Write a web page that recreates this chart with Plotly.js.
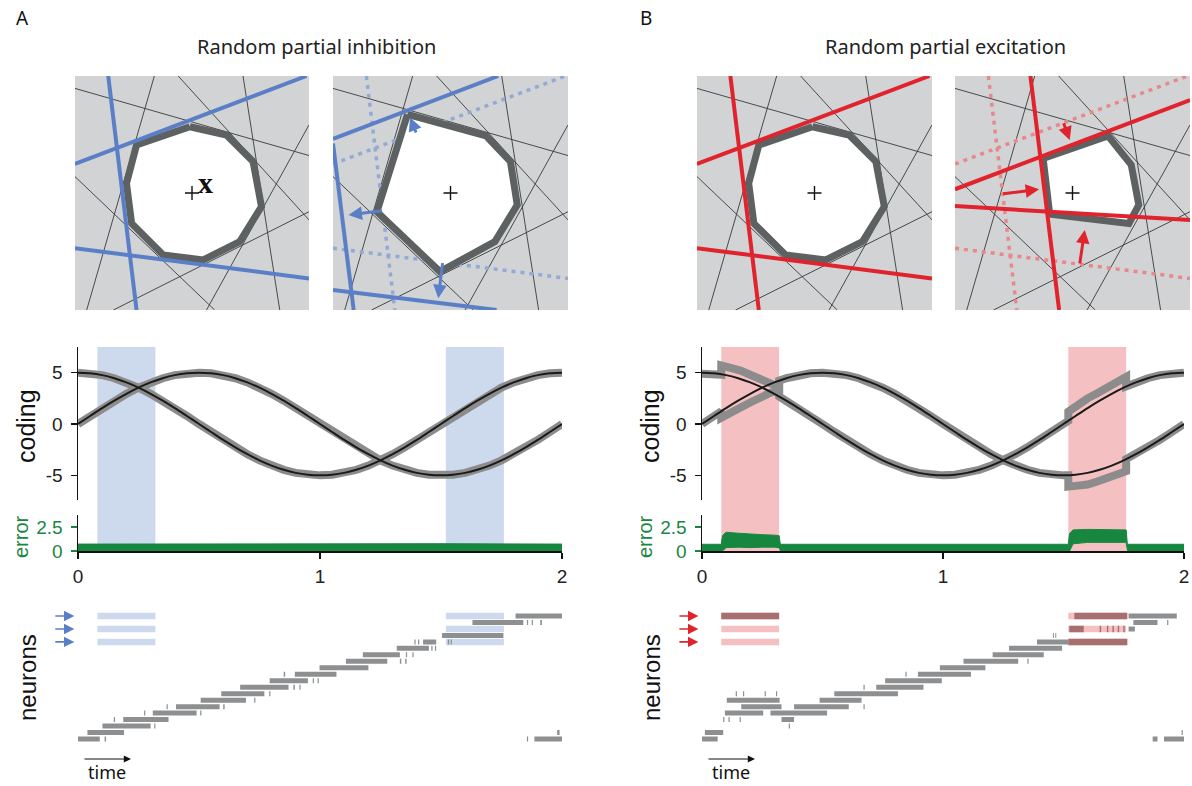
<!DOCTYPE html>
<html><head><meta charset="utf-8">
<script src="https://cdn.plot.ly/plotly-3.0.1.min.js"></script>
<style>html,body{margin:0;padding:0;background:#fff}#chart{width:1192px;height:786px}</style>
</head><body><div id="chart"></div>
<script>
// ---------------- data ----------------
const panelLabels = ['A', 'B'];
const panelTitles = ['Random partial inhibition', 'Random partial excitation'];
const timeTicks = [0, 1, 2];
const timeTickText = ['0', '1', '2'];
const codingTicks = [-5, 0, 5];
const codingTickText = ['-5', '0', '5'];
const errorTicks = [0, 2.5];
const errorTickText = ['0', '2.5'];
const stimPeriods = [[0.08, 0.32], [1.52, 1.76]];
const stimRows = [0, 2, 4];

// polytope diagrams (unit square coordinates)
const thinLines = [[0,0.947,1,0.660],[0.339,1,0.050,0],[0.441,1,1,0.385],[0.718,1,0.875,0],[0,0.570,0.597,0],[0.164,0,1,0.420],[0.562,0,1,0.791]];
const origBounds = [[0,0.624,0.989,1],[0.142,1,0.263,0],[0,0.264,1,0.135]];
const inhibBounds = [[0,0.731,0.703,1],[0,0.712,0.088,0],[0,0.085,0.696,0]];
const excitBounds = [[0,0.516,1,0.897],[0.321,1,0.443,0],[0,0.444,1,0.385]];
const polyOrigX = [0.491,0.647,0.761,0.797,0.704,0.548,0.377,0.242,0.220,0.263];
const polyOrigY = [0.783,0.748,0.634,0.442,0.292,0.214,0.235,0.370,0.541,0.705];
const polyInhX = [0.317,0.651,0.755,0.784,0.689,0.455,0.187];
const polyInhY = [0.836,0.744,0.634,0.449,0.292,0.164,0.420];
const polyExcX = [0.375,0.651,0.750,0.782,0.740,0.403];
const polyExcY = [0.648,0.744,0.620,0.449,0.370,0.410];
const inhibArrows = [[0.356,0.752,0.328,0.823],[0.215,0.425,0.066,0.406],[0.467,0.207,0.448,0.050]];
const excitArrows = [[0.460,0.805,0.488,0.726],[0.198,0.496,0.358,0.516],[0.530,0.192,0.552,0.342]];

// target signals
const tSig = [0,0.05,0.1,0.15,0.2,0.25,0.3,0.35,0.4,0.45,0.5,0.55,0.6,0.65,0.7,0.75,0.8,0.85,0.9,0.95,1.0,1.05,1.1,1.15,1.2,1.25,1.3,1.35,1.4,1.45,1.5,1.55,1.6,1.65,1.7,1.75,1.8,1.85,1.9,1.95,2.0];
const sigCos = [5,4.94,4.76,4.46,4.05,3.54,2.94,2.27,1.55,0.78,0,-0.78,-1.55,-2.27,-2.94,-3.54,-4.05,-4.46,-4.76,-4.94,-5,-4.94,-4.76,-4.46,-4.05,-3.54,-2.94,-2.27,-1.55,-0.78,0,0.78,1.55,2.27,2.94,3.54,4.05,4.46,4.76,4.94,5];
const sigSin = [0,0.78,1.55,2.27,2.94,3.54,4.05,4.46,4.76,4.94,5,4.94,4.76,4.46,4.05,3.54,2.94,2.27,1.55,0.78,0,-0.78,-1.55,-2.27,-2.94,-3.54,-4.05,-4.46,-4.76,-4.94,-5,-4.94,-4.76,-4.46,-4.05,-3.54,-2.94,-2.27,-1.55,-0.78,0];

// network readouts in panel B (panel A readouts follow the targets)
const readBT = [0,0.05,0.08,0.08,0.12,0.16,0.2,0.24,0.28,0.32,0.32,0.35,0.4,0.45,0.5,0.55,0.6,0.65,0.7,0.75,0.8,0.85,0.9,0.95,1.0,1.05,1.1,1.15,1.2,1.25,1.3,1.35,1.4,1.45,1.5,1.52,1.52,1.56,1.6,1.64,1.68,1.72,1.76,1.76,1.8,1.85,1.9,1.95,2.0];
const readBCos = [4.9,4.85,4.8,5.7,5.5,5.2,4.8,4.4,4.0,3.6,2.68,2.27,1.55,0.78,0,-0.78,-1.55,-2.27,-2.94,-3.54,-4.05,-4.46,-4.76,-4.94,-5,-4.94,-4.76,-4.46,-4.05,-3.54,-2.94,-2.27,-1.55,-0.78,0,0.31,1.2,1.9,2.5,3.0,3.6,4.1,4.6,3.65,4.05,4.46,4.76,4.94,5];
const readBSin = [0,0.78,1.24,0.6,1.0,1.6,2.1,2.6,3.0,3.3,4.22,4.46,4.76,4.94,5,4.94,4.76,4.46,4.05,3.54,2.94,2.27,1.55,0.78,0,-0.78,-1.55,-2.27,-2.94,-3.54,-4.05,-4.46,-4.76,-4.94,-5,-4.99,-6.1,-6.0,-5.9,-5.6,-5.3,-5.0,-4.6,-3.42,-2.94,-2.27,-1.55,-0.78,0];

// coding error bands
const errAT = [0,0.5,1.0,1.5,2.0];
const errAHi = [0.72,0.75,0.72,0.76,0.72];
const errALo = [0,0,0,0,0];
const errBT = [0,0.08,0.085,0.1,0.15,0.2,0.25,0.3,0.32,0.325,1.52,1.525,1.54,1.6,1.7,1.76,1.765,2.0];
const errBHi = [0.7,0.7,1.6,1.95,1.85,1.75,1.7,1.65,1.6,0.7,0.7,1.8,2.2,2.25,2.25,2.2,0.7,0.7];
const errBLo = [0,0,0,0.35,0.4,0.35,0.4,0.4,0.35,0,0,0,0.75,0.9,0.9,0.9,0,0];

// spike rasters: [neuron row, start, end]
const rasterA = [[0,1.808,2.0],[1,1.63,1.84],[1,1.855,1.86],[1,1.875,1.88],[1,1.91,1.917],[3,1.504,1.758],
 [4,1.39,1.395],[4,1.405,1.41],[4,1.426,1.48],[4,1.528,1.534],[4,1.54,1.545],[5,1.317,1.45],[5,1.46,1.465],[5,1.475,1.48],
 [6,1.177,1.33],[6,1.355,1.36],[6,1.382,1.387],[7,1.107,1.278],[7,1.33,1.336],[7,1.352,1.358],[8,0.998,1.2],
 [9,0.85,0.856],[9,0.896,1.068],[10,0.792,0.95],[10,0.97,0.975],[10,0.99,0.995],[11,0.67,0.87],[11,0.89,0.896],[11,0.915,0.92],
 [12,0.592,0.77],[12,0.79,0.795],[13,0.507,0.694],[13,0.728,0.733],[14,0.366,0.371],[14,0.405,0.585],[14,0.6,0.606],
 [15,0.273,0.278],[15,0.309,0.49],[15,0.505,0.51],[16,0.148,0.153],[16,0.187,0.374],[17,0.101,0.3],[17,0.315,0.32],
 [18,0.039,0.19],[18,1.98,1.99],[19,0,0.09],[19,0.11,0.116],[19,1.855,1.86],[19,1.886,2.0]];
const rasterB = [[0,1.77,1.97],[1,1.79,1.89],[1,1.93,1.935],[2,1.77,1.796],[3,1.456,1.46],[3,1.466,1.47],[4,1.39,1.52],
 [5,1.274,1.494],[6,1.206,1.418],[7,1.085,1.312],[7,1.35,1.355],[8,0.987,1.176],[9,0.844,0.849],[9,0.896,1.116],
 [10,0.76,0.995],[11,0.67,0.675],[11,0.723,0.919],[12,0.14,0.145],[12,0.17,0.175],[12,0.26,0.265],[12,0.307,0.312],[12,0.549,0.813],
 [13,0.103,0.322],[13,0.488,0.662],[14,0.163,0.33],[14,0.382,0.609],[14,0.67,0.675],[15,0.095,0.254],[15,0.284,0.519],
 [16,0.088,0.093],[16,0.11,0.115],[16,0.156,0.161],[16,0.33,0.382],[17,0.36,0.365],[18,0.012,0.088],[18,1.99,1.995],
 [19,0,0.065],[19,1.87,1.89],[19,1.917,2.0]];
const rasterBExcited = [[0,0.08,0.32],[0,1.545,1.765],[2,1.524,1.584],[2,1.65,1.656],[2,1.68,1.686],[2,1.703,1.709],[2,1.725,1.731],[2,1.748,1.754],[4,1.52,1.765]];
const stimArrowT = [-0.1, -0.015];

// ---------------- styles ----------------
const C = {
  blue:'#5a7fc6', blueDot:'#93aad8', blueShade:'#cdd9ec',
  red:'#e0232c', redDot:'#e8888c', pink:'#f5c0c2', darkRed:'#a86f71',
  sqBg:'#d1d3d4', poly:'#5e6162', thin:'#3a3a3a', gray:'#8c8c8c', raster:'#8e8f91', green:'#17873f'
};
const W = 1192, H = 786;
const px = v => v / W, py = v => 1 - v / H;
const FONT = 'Liberation Sans, Arial, sans-serif';
const FONT2 = 'Noto Sans, Open Sans, sans-serif';

function segs(list) {
  const x = [], y = [];
  list.forEach(s => { x.push(s[0], s[2], null); y.push(s[1], s[3], null); });
  return {x, y};
}
function rows(list) {
  const x = [], y = [];
  list.forEach(r => { x.push(r[1], r[2], null); y.push(r[0], r[0], null); });
  return {x, y};
}
function closed(a) { return a.concat([a[0]]); }
function label(x, y, text, font, extra) {
  return Object.assign({xref: 'paper', yref: 'paper', x: px(x), y: py(y), text: text, showarrow: false,
    xanchor: 'center', yanchor: 'middle', font: font}, extra || {});
}

const traces = [];
const shapes = [];
const annotations = [];
const layout = {
  width: W, height: H, margin: {l:0, r:0, t:0, b:0},
  paper_bgcolor: '#ffffff', plot_bgcolor: 'rgba(0,0,0,0)', showlegend: false,
  font: {family: FONT, color: '#222'}
};

// square subplots
const sqX = [[75,309],[333,568],[697,932],[955,1190]];
const sqY = [76,310];
const sqSpecs = [
  {solid: origBounds, dotted: null, poly: [polyOrigX, polyOrigY], col: C.blue, dcol: C.blueDot, arrows: null},
  {solid: inhibBounds, dotted: origBounds, poly: [polyInhX, polyInhY], col: C.blue, dcol: C.blueDot, arrows: inhibArrows},
  {solid: origBounds, dotted: null, poly: [polyOrigX, polyOrigY], col: C.red, dcol: C.redDot, arrows: null},
  {solid: excitBounds, dotted: origBounds, poly: [polyExcX, polyExcY], col: C.red, dcol: C.redDot, arrows: excitArrows}
];
sqSpecs.forEach((sp, i) => {
  const n = i + 1, xa = 'x' + n, ya = 'y' + n;
  layout['xaxis' + n] = {domain: [px(sqX[i][0]), px(sqX[i][1])], range: [0, 1], visible: false, fixedrange: true, anchor: ya};
  layout['yaxis' + n] = {domain: [py(sqY[1]), py(sqY[0])], range: [0, 1], visible: false, fixedrange: true, anchor: xa};
  shapes.push({type: 'rect', xref: xa, yref: ya, x0: 0, x1: 1, y0: 0, y1: 1, fillcolor: C.sqBg, line: {width: 0}, layer: 'below'});
  const tl = segs(thinLines);
  traces.push({type: 'scatter', mode: 'lines', x: tl.x, y: tl.y, xaxis: xa, yaxis: ya, line: {color: C.thin, width: 0.9}, hoverinfo: 'skip'});
  if (sp.dotted) {
    const d = segs(sp.dotted);
    traces.push({type: 'scatter', mode: 'lines', x: d.x, y: d.y, xaxis: xa, yaxis: ya, line: {color: sp.dcol, width: 3.5, dash: '4px,5px'}, hoverinfo: 'skip'});
  }
  traces.push({type: 'scatter', mode: 'lines', x: closed(sp.poly[0]), y: closed(sp.poly[1]), xaxis: xa, yaxis: ya,
    fill: 'toself', fillcolor: '#ffffff', line: {color: C.poly, width: 7}, hoverinfo: 'skip'});
  const s = segs(sp.solid);
  traces.push({type: 'scatter', mode: 'lines', x: s.x, y: s.y, xaxis: xa, yaxis: ya, line: {color: sp.col, width: 4}, hoverinfo: 'skip'});
  traces.push({type: 'scatter', mode: 'markers', x: [0.5], y: [0.5], xaxis: xa, yaxis: ya,
    marker: {symbol: 'cross-thin', size: 10, line: {color: '#111', width: 1.4}}, hoverinfo: 'skip'});
  if (sp.arrows) sp.arrows.forEach(a => annotations.push({xref: xa, yref: ya, axref: xa, ayref: ya, x: a[2], y: a[3], ax: a[0], ay: a[1],
    text: '', showarrow: true, arrowhead: 2, arrowsize: 0.9, arrowwidth: 3, arrowcolor: sp.col}));
});
annotations.push({xref: 'x1', yref: 'y1', x: 0.558, y: 0.543, text: '<b>x</b>', showarrow: false, xanchor: 'center', yanchor: 'middle',
  font: {family: 'Liberation Serif, DejaVu Serif, serif', size: 30, color: '#111'}});

// time-series panels
const panels = [
  {x0: 78, x1: 562, shade: C.blueShade, read: null, err: [errAT, errAHi, errALo], raster: rasterA, excited: null, arrowCol: C.blue, labX: 0},
  {x0: 702, x1: 1184, shade: C.pink, read: [readBT, readBCos, readBSin], err: [errBT, errBHi, errBLo], raster: rasterB, excited: rasterBExcited, arrowCol: C.red, labX: 624}
];
panels.forEach((p, k) => {
  const nc = 5 + k * 3, ne = nc + 1, nn = nc + 2;
  const dom = [px(p.x0), px(p.x1)];
  const unit = (p.x1 - p.x0) / 2;
  const nLeft = -0.12;
  // coding
  layout['xaxis' + nc] = {domain: dom, range: [0, 2], visible: false, fixedrange: true, anchor: 'y' + nc};
  layout['yaxis' + nc] = {domain: [py(500), py(347)], range: [-7.4, 7.5], anchor: 'x' + nc, fixedrange: true,
    tickvals: codingTicks, ticktext: codingTickText, ticks: 'outside', ticklen: 6, tickwidth: 1.5, tickcolor: '#111',
    showline: true, linecolor: '#111', linewidth: 1.5, showgrid: false, zeroline: false,
    tickfont: {size: 19, color: '#222'}, ticklabelstandoff: 4};
  // error
  layout['xaxis' + ne] = {domain: dom, range: [0, 2], anchor: 'y' + ne, fixedrange: true,
    tickvals: timeTicks, ticktext: timeTickText, ticks: 'outside', ticklen: 6, tickwidth: 1.5, tickcolor: '#111',
    showline: true, linecolor: '#111', linewidth: 1.5, showgrid: false, zeroline: false,
    tickfont: {size: 19, color: '#222'}, ticklabelstandoff: 2};
  layout['yaxis' + ne] = {domain: [py(551), py(515)], range: [0, 3.75], anchor: 'x' + ne, fixedrange: true,
    tickvals: errorTicks, ticktext: errorTickText, ticks: 'outside', ticklen: 6, tickwidth: 1.5, tickcolor: C.green,
    showline: true, linecolor: '#111', linewidth: 1.5, showgrid: false, zeroline: false,
    tickfont: {size: 19, color: C.green}, ticklabelstandoff: 4};
  // neurons (axis extended a little to the left to hold the stimulation arrows)
  layout['xaxis' + nn] = {domain: [px(p.x0 + nLeft * unit), px(p.x1)], range: [nLeft, 2], visible: false, fixedrange: true, anchor: 'y' + nn};
  layout['yaxis' + nn] = {domain: [py(745.5), py(609.5)], range: [20, -1], visible: false, fixedrange: true, anchor: 'x' + nn};

  stimPeriods.forEach(sp => shapes.push({type: 'rect', xref: 'x' + nc, yref: 'paper', x0: sp[0], x1: sp[1],
    y0: py(551), y1: py(347), fillcolor: p.shade, line: {width: 0}, layer: 'below'}));

  const xc = 'x' + nc, yc = 'y' + nc;
  const rt = p.read ? p.read[0] : tSig, rc = p.read ? p.read[1] : sigCos, rs = p.read ? p.read[2] : sigSin;
  traces.push({type: 'scatter', mode: 'lines', x: rt, y: rc, xaxis: xc, yaxis: yc, line: {color: C.gray, width: 8}, hoverinfo: 'skip'});
  traces.push({type: 'scatter', mode: 'lines', x: rt, y: rs, xaxis: xc, yaxis: yc, line: {color: C.gray, width: 8}, hoverinfo: 'skip'});
  traces.push({type: 'scatter', mode: 'lines', x: tSig, y: sigCos, xaxis: xc, yaxis: yc, line: {color: '#1a1a1a', width: 2, shape: 'spline'}, hoverinfo: 'skip'});
  traces.push({type: 'scatter', mode: 'lines', x: tSig, y: sigSin, xaxis: xc, yaxis: yc, line: {color: '#1a1a1a', width: 2, shape: 'spline'}, hoverinfo: 'skip'});

  const eT = p.err[0];
  traces.push({type: 'scatter', mode: 'lines', x: eT.concat(eT.slice().reverse()), y: p.err[1].concat(p.err[2].slice().reverse()),
    xaxis: 'x' + ne, yaxis: 'y' + ne, fill: 'toself', fillcolor: C.green, line: {color: C.green, width: 1}, hoverinfo: 'skip'});

  // stimulation bars
  const bars = [];
  stimPeriods.forEach(sp => stimRows.forEach(r => bars.push([r, sp[0], sp[1]])));
  const b = rows(bars);
  traces.push({type: 'scatter', mode: 'lines', x: b.x, y: b.y, xaxis: 'x' + nn, yaxis: 'y' + nn, line: {color: p.shade, width: 6.5}, hoverinfo: 'skip'});
  const r = rows(p.raster);
  traces.push({type: 'scatter', mode: 'lines', x: r.x, y: r.y, xaxis: 'x' + nn, yaxis: 'y' + nn, line: {color: C.raster, width: 5}, hoverinfo: 'skip'});
  if (p.excited) {
    const e = rows(p.excited);
    traces.push({type: 'scatter', mode: 'lines', x: e.x, y: e.y, xaxis: 'x' + nn, yaxis: 'y' + nn, line: {color: C.darkRed, width: 6.5}, hoverinfo: 'skip'});
  }
  stimRows.forEach(rw => annotations.push({xref: 'x' + nn, yref: 'y' + nn, axref: 'x' + nn, ayref: 'y' + nn,
    x: stimArrowT[1], y: rw, ax: stimArrowT[0], ay: rw, text: '', showarrow: true, arrowhead: 2, arrowsize: 1.3, arrowwidth: 1.6, arrowcolor: p.arrowCol}));

  // labels
  const off = p.labX;
  annotations.push(label(off + 22, 18, panelLabels[k], {family: FONT2, size: 19, color: '#111'}));
  annotations.push(label((p.x0 + p.x1) / 2 + (k ? 2 : -4), 46, panelTitles[k], {family: FONT2, size: 20, color: '#222'}));
  annotations.push(label(off + 26, 426, 'coding', {family: FONT, size: 25, color: '#111'}, {textangle: -90}));
  annotations.push(label(off + 21, 537, 'error', {family: FONT, size: 20, color: C.green}, {textangle: -90}));
  annotations.push(label(off + 27, 678, 'neurons', {family: FONT, size: 24, color: '#111'}, {textangle: -90}));
  annotations.push(label(p.x0 + 29, 772, 'time', {family: FONT2, size: 18, color: '#111'}));
  annotations.push({xref: 'paper', yref: 'paper', axref: 'pixel', ayref: 'pixel', x: px(p.x0 + 53), y: py(759), ax: -48, ay: 0,
    text: '', showarrow: true, arrowhead: 2, arrowsize: 1.2, arrowwidth: 1.2, arrowcolor: '#111'});
});

layout.shapes = shapes;
layout.annotations = annotations;
Plotly.newPlot('chart', traces, layout, {staticPlot: true, displayModeBar: false});
</script></body></html>
